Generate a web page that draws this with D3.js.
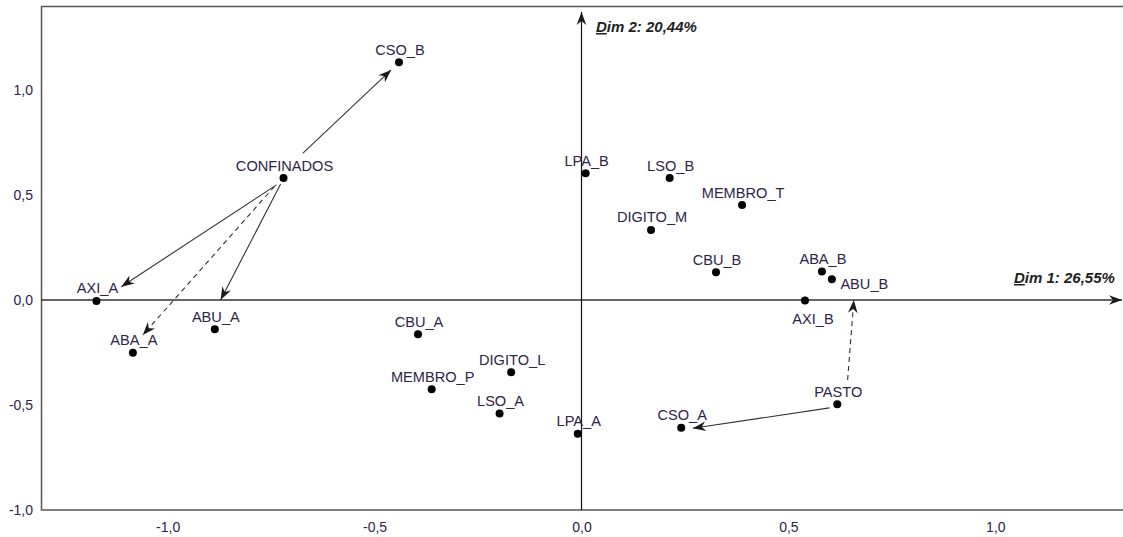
<!DOCTYPE html>
<html>
<head>
<meta charset="utf-8">
<script src="https://cdn.jsdelivr.net/npm/d3@7"></script>
<style>
  body { margin: 0; background: #fff; }
  svg { display: block; font-family: "Liberation Sans", Arial, sans-serif; }
  .tick text { fill: #2d2447; font-size: 14px; }
  .lbl { fill: #2d2447; font-size: 14.6px; }
  .dim { fill: #222; font-size: 15px; font-weight: bold; font-style: italic; }
</style>
</head>
<body>
<div id="chart"></div>
<script>
var svgWidth = 1123;
var svgHeight = 537;

// category points (Dim 1, Dim 2)
var names = ["CSO_B", "CONFINADOS", "AXI_A", "ABA_A", "ABU_A", "CBU_A", "DIGITO_L", "MEMBRO_P",
  "LSO_A", "LPA_A", "CSO_A", "PASTO", "LPA_B", "LSO_B", "MEMBRO_T", "DIGITO_M",
  "CBU_B", "ABA_B", "ABU_B", "AXI_B"];
var dim1 = [-0.441, -0.720, -1.172, -1.084, -0.886, -0.395, -0.170, -0.362,
  -0.198, -0.009, 0.241, 0.618, 0.010, 0.213, 0.388, 0.168,
  0.325, 0.581, 0.605, 0.540];
var dim2 = [1.132, 0.580, -0.005, -0.251, -0.140, -0.163, -0.344, -0.425,
  -0.540, -0.637, -0.608, -0.497, 0.603, 0.580, 0.452, 0.333,
  0.132, 0.135, 0.098, -0.003];

// arrows between supplementary points and categories
var arrowX1 = [-0.673, -0.737, -0.742, -0.727, 0.599, 0.643];
var arrowY1 = [0.699, 0.548, 0.540, 0.552, -0.514, -0.381];
var arrowX2 = [-0.460, -1.112, -1.060, -0.872, 0.269, 0.658];
var arrowY2 = [1.095, 0.063, -0.167, 0.000, -0.611, 0.000];
var arrowDashed = [false, false, true, false, false, true];

var xTicks = [-1, -0.5, 0, 0.5, 1];
var yTicks = [-1, -0.5, 0, 0.5, 1];

var xTitle = "Dim 1: 26,55%";
var yTitle = "Dim 2: 20,44%";

var frame = { left: 41, top: 6.5, right: 1122, bottom: 510 };

var svg = d3.select("#chart")
  .append("svg")
  .attr("width", svgWidth)
  .attr("height", svgHeight);

var x = d3.scaleLinear().domain([-1.306, 1.306]).range([frame.left, frame.right]);
var y = d3.scaleLinear().domain([-1, 1.397]).range([frame.bottom, frame.top]);

var locale = d3.formatLocale({ decimal: ",", thousands: ".", grouping: [3], currency: ["", ""], minus: "-" });
var fmt = locale.format(".1f");

// arrow head marker
var defs = svg.append("defs");
defs.append("marker")
  .attr("id", "head")
  .attr("markerUnits", "userSpaceOnUse")
  .attr("viewBox", "-14 -6 15 12")
  .attr("refX", 0).attr("refY", 0)
  .attr("markerWidth", 15).attr("markerHeight", 12)
  .attr("orient", "auto")
  .append("path")
  .attr("d", "M0,0 L-13,-4.8 L-9,0 L-13,4.8 Z")
  .attr("fill", "#1a1a1a");

// frame
svg.append("rect")
  .attr("x", frame.left + 0.5)
  .attr("y", frame.top)
  .attr("width", frame.right - frame.left + 2)
  .attr("height", frame.bottom - frame.top)
  .attr("fill", "none")
  .attr("stroke", "#555")
  .attr("stroke-width", 1.5);

// tick labels
var leftAxis = d3.axisLeft(y).tickValues(yTicks).tickSize(0).tickPadding(8).tickFormat(fmt);
var bottomAxis = d3.axisBottom(x).tickValues(xTicks).tickSize(0).tickPadding(12.5).tickFormat(fmt);

svg.append("g")
  .attr("transform", `translate(${frame.left}, 0)`)
  .call(leftAxis)
  .call(g => g.select(".domain").remove());

svg.append("g")
  .attr("transform", `translate(0, ${frame.bottom})`)
  .call(bottomAxis)
  .call(g => g.select(".domain").remove());

svg.selectAll(".tick text").attr("font-family", null).attr("font-size", null);

// axes through origin
svg.append("line")
  .attr("x1", frame.left).attr("x2", frame.right)
  .attr("y1", y(0)).attr("y2", y(0))
  .attr("stroke", "#333").attr("stroke-width", 1.5)
  .attr("marker-end", "url(#head)");

svg.append("line")
  .attr("x1", x(0)).attr("x2", x(0))
  .attr("y1", frame.bottom).attr("y2", 12)
  .attr("stroke", "#111").attr("stroke-width", 1.2)
  .attr("marker-end", "url(#head)");

// axis titles, first letter underlined
function dimTitle(txt, px, py) {
  var t = svg.append("text").attr("class", "dim").attr("x", px).attr("y", py);
  t.append("tspan").attr("text-decoration", "underline").text(txt.slice(0, 1));
  t.append("tspan").text(txt.slice(1));
}
dimTitle(xTitle, 1014, 283);
dimTitle(yTitle, 596, 32);

// arrows
var arrows = d3.range(arrowX1.length);
svg.append("g").selectAll("line")
  .data(arrows)
  .enter()
  .append("line")
  .attr("x1", i => x(arrowX1[i]))
  .attr("y1", i => y(arrowY1[i]))
  .attr("x2", i => x(arrowX2[i]))
  .attr("y2", i => y(arrowY2[i]))
  .attr("stroke", "#333")
  .attr("stroke-width", 1.1)
  .attr("stroke-dasharray", i => arrowDashed[i] ? "5,4" : null)
  .attr("marker-end", "url(#head)");

// points
var pts = d3.range(names.length);
svg.append("g").selectAll("circle")
  .data(pts)
  .enter()
  .append("circle")
  .attr("cx", i => x(dim1[i]))
  .attr("cy", i => y(dim2[i]))
  .attr("r", 4)
  .attr("fill", "#000");

// label placement: above the point unless noted
var labelPlace = { AXI_B: "below", ABU_B: "right" };

svg.append("g").selectAll("text")
  .data(pts)
  .enter()
  .append("text")
  .attr("class", "lbl")
  .attr("text-anchor", i => labelPlace[names[i]] === "right" ? "start" : "middle")
  .attr("x", function(i) {
    var p = labelPlace[names[i]];
    if (p === "right") return x(dim1[i]) + 8.5;
    if (p === "below") return x(dim1[i]) + 8;
    return x(dim1[i]) + 1;
  })
  .attr("y", function(i) {
    var p = labelPlace[names[i]];
    if (p === "right") return y(dim2[i]) + 10;
    if (p === "below") return y(dim2[i]) + 23;
    return y(dim2[i]) - 7.5;
  })
  .text(i => names[i]);
</script>
</body>
</html>
